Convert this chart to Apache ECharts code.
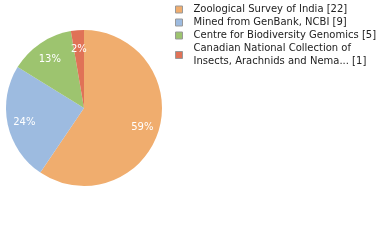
<!DOCTYPE html>
<html><head><meta charset="utf-8">
<script src="https://cdn.jsdelivr.net/npm/echarts@6/dist/echarts.min.js"></script>
<style>html,body{margin:0;padding:0;background:#fff}#c{width:380px;height:240px}</style>
</head><body><div id="c"></div>
<script>
const categories = ["Zoological Survey of India", "Mined from GenBank, NCBI", "Centre for Biodiversity Genomics", "Canadian National Collection of\nInsects, Arachnids and Nema..."];
const values = [22, 9, 5, 1];
const colors = ["#f0ad6e", "#9dbbe0", "#9dc46f", "#e07257"];

const chart = echarts.init(document.getElementById('c'), null, {renderer: 'canvas'});
const data = categories.map((n, i) => ({name: n, value: values[i], itemStyle: {color: colors[i]}}));
const legendData = categories.map((n, i) => ({name: n, itemStyle: {color: colors[i], borderColor: '#999', borderWidth: 1}}));
chart.setOption({
  animation: false,
  textStyle: {fontFamily: 'DejaVu Sans'},
  legend: {
    orient: 'vertical', left: 175, top: 3, padding: 0,
    itemWidth: 13, itemHeight: 7, itemGap: 0,
    icon: 'path://M0,0 L7,0 L7,7 L0,7 Z M13,7 L13,7',
    data: legendData,
    formatter: function (name) { const i = categories.indexOf(name); return name + ' [' + values[i] + ']'; },
    textStyle: {fontSize: 10, lineHeight: 13, color: '#222', fontFamily: 'DejaVu Sans'}
  },
  series: [
    {
      type: 'pie', center: [84, 108], radius: [0, 78], startAngle: 90, clockwise: true,
      data: data, label: {show: false}, labelLine: {show: false}, silent: true
    },
    {
      type: 'pie', center: [84, 108], radius: [38, 78], startAngle: 90, clockwise: true,
      data: data.map(d => ({name: d.name, value: d.value, itemStyle: {color: 'rgba(0,0,0,0)'}})),
      silent: true,
      label: {show: true, position: 'inside', color: '#fff', fontSize: 10, fontFamily: 'DejaVu Sans',
        offset: [0, 2], formatter: p => Math.floor(p.percent) + '%'},
      labelLine: {show: false}
    }
  ]
});
</script></body></html>
